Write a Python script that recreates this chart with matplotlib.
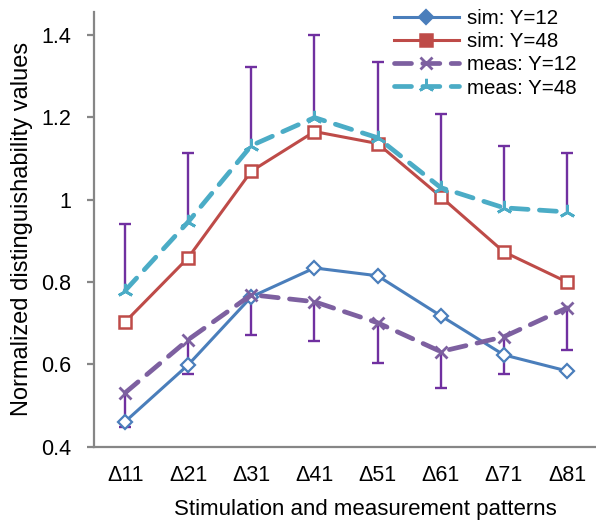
import numpy as np
import matplotlib
matplotlib.use("Agg")
import matplotlib.pyplot as plt

plt.rcParams['font.family'] = ['Liberation Sans', 'DejaVu Sans']

# Datos
patrones = ["Δ11", "Δ21", "Δ31", "Δ41", "Δ51", "Δ61", "Δ71", "Δ81"]
sim_y12 = [0.461, 0.599, 0.764, 0.834, 0.815, 0.718, 0.623, 0.584]
sim_y48 = [0.703, 0.859, 1.069, 1.165, 1.136, 1.007, 0.873, 0.800]
meas_y12 = [0.531, 0.660, 0.769, 0.752, 0.701, 0.631, 0.667, 0.737]
meas_y48 = [0.779, 0.946, 1.131, 1.199, 1.150, 1.029, 0.980, 0.970]
# extremos de las barras de error (meas Y=12 hacia abajo, meas Y=48 hacia arriba)
meas_y12_min = [0.449, 0.577, 0.672, 0.657, 0.604, 0.543, 0.577, 0.635]
meas_y48_max = [0.941, 1.114, 1.322, 1.400, 1.334, 1.208, 1.131, 1.114]

azul = "#4A7EBB"
rojo = "#BE4B48"
morado = "#7D60A0"
cian = "#4BACC6"
err_col = "#7030A0"
gris = "#868686"

x = np.arange(1, len(patrones) + 1)

fig = plt.figure(figsize=(5.96, 5.25), dpi=100)
ax = fig.add_axes([0.157, 0.149, 0.843, 0.828])

# barras de error
ax.vlines(x, meas_y48, meas_y48_max, color=err_col, lw=1.7, zorder=2)
ax.plot(x, meas_y48_max, ls='none', marker='_', ms=8, mew=1.7, color=err_col, zorder=2)
ax.vlines(x, meas_y12_min, meas_y12, color=err_col, lw=1.7, zorder=2)
ax.plot(x, meas_y12_min, ls='none', marker='_', ms=8, mew=1.7, color=err_col, zorder=2)

ax.plot(x, sim_y12, color=azul, lw=2.2, marker='D', ms=7, mfc='white', mec=azul, mew=1.6,
        label="sim: Y=12", zorder=3)
ax.plot(x, sim_y48, color=rojo, lw=2.2, marker='s', ms=9, mfc='white', mec=rojo, mew=1.8,
        label="sim: Y=48", zorder=3)
ax.plot(x, meas_y12, color=morado, lw=3.4, ls=(0, (3.6, 2.4)), dash_capstyle='round',
        marker='x', ms=9, mec=morado, mew=2, label="meas: Y=12", zorder=4)
ax.plot(x, meas_y48, color=cian, lw=3.4, ls=(0, (3.6, 2.4)), dash_capstyle='round',
        marker=(3, 2, 0), ms=11, mec=cian, mew=2, label="meas: Y=48", zorder=4)

ax.set_xlim(0.5, 8.46)
ax.set_ylim(0.4, 1.455)
ax.set_yticks([0.4, 0.6, 0.8, 1.0, 1.2, 1.4])
ax.set_yticklabels(["0.4", "0.6", "0.8", "1", "1.2", "1.4"])
ax.set_xticks(x)
ax.set_xticklabels(patrones)

for s in ['top', 'right']:
    ax.spines[s].set_visible(False)
for s in ['left', 'bottom']:
    ax.spines[s].set_color(gris)
    ax.spines[s].set_linewidth(1.6)
ax.tick_params(axis='y', direction='out', length=5, width=1.6, color=gris, labelsize=15.5, pad=11)
ax.tick_params(axis='x', length=0, labelsize=15.5, pad=13)

ax.set_xlabel("Stimulation and measurement patterns", fontsize=16)
ax.xaxis.set_label_coords(0.54, -0.12)
ax.set_ylabel("Normalized distinguishability values", fontsize=17, labelpad=6)

leg = ax.legend(loc='upper right', bbox_to_anchor=(0.985, 1.035), frameon=False, fontsize=14.8,
                handlelength=3.2, handletextpad=0.35, labelspacing=0.2, borderaxespad=0.2)
# en la leyenda los marcadores van rellenos
for h, c in zip(leg.legend_handles, [azul, rojo, morado, cian]):
    h.set_markerfacecolor(c)

fig.savefig("out.png", dpi=100)
